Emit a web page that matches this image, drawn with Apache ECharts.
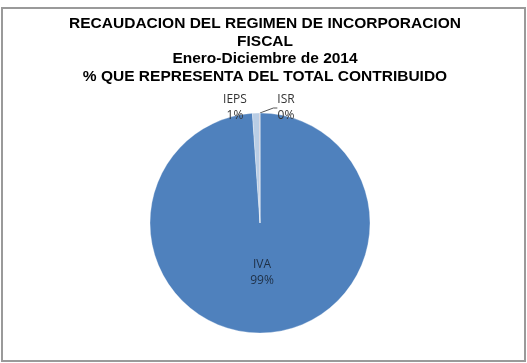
<!DOCTYPE html>
<html>
<head>
<meta charset="utf-8">
<script src="https://cdn.jsdelivr.net/npm/echarts@6/dist/echarts.min.js"></script>
<style>
  html, body { margin: 0; padding: 0; background: #fff; }
  #chart { width: 527px; height: 363px; }
</style>
</head>
<body>
<div id="chart"></div>
<script>
const impuestos = ['IVA', 'IEPS', 'ISR']
const porcentajes = [98.9, 1.08, 0.02]
const colores = ['#4f81bd', '#b9cde5', '#c0504d']

const tituloLineas = [
    'RECAUDACION DEL REGIMEN DE INCORPORACION',
    'FISCAL',
    'Enero-Diciembre de 2014',
    '% QUE REPRESENTA DEL TOTAL CONTRIBUIDO'
]

function datosPie(){
    return impuestos.map((nombre, i) => {
        let item = {name: nombre, value: porcentajes[i], itemStyle: {color: colores[i]}}
        if (i > 0) {
            item.label = {position: 'outside', color: '#333'}
            item.labelLine = {show: i == 2, length: 3, length2: 4, lineStyle: {color: '#555', width: 1}}
        }
        return item
    })
}

const chart = echarts.init(document.getElementById('chart'))

let option = {
    animation: false,
    backgroundColor: '#fff',
    graphic: [{
        type: 'rect',
        shape: {x: 2, y: 8, width: 523, height: 353},
        style: {fill: 'none', stroke: '#9a9a9a', lineWidth: 2},
        silent: true
    }],
    title: {
        text: tituloLineas.join('\n'),
        left: 260,
        top: 10,
        textAlign: 'center',
        textStyle: {
            fontFamily: 'Liberation Sans, Arial',
            fontWeight: 'bold',
            fontSize: 15.5,
            lineHeight: 17.5,
            color: '#000'
        }
    },
    series: [{
        type: 'pie',
        center: [260, 223],
        radius: 110,
        startAngle: 90,
        clockwise: true,
        avoidLabelOverlap: false,
        data: datosPie(),
        itemStyle: {borderColor: 'rgba(255,255,255,0.6)', borderWidth: 0.5},
        label: {
            position: 'inside',
            formatter: function (p) { return p.name + '\n' + Math.round(p.percent) + '%' },
            fontFamily: 'Open Sans',
            fontSize: 12,
            lineHeight: 16,
            color: '#1e2f45'
        },
        labelLayout: function (params) {
            if (params.dataIndex == 1) {
                return {x: 235, y: 108, align: 'center', verticalAlign: 'middle'}
            }
            if (params.dataIndex == 2) {
                return {x: 286, y: 108, align: 'center', verticalAlign: 'middle'}
            }
            return {dy: -8}
        },
        emphasis: {disabled: true}
    }]
}

chart.setOption(option)
</script>
</body>
</html>
